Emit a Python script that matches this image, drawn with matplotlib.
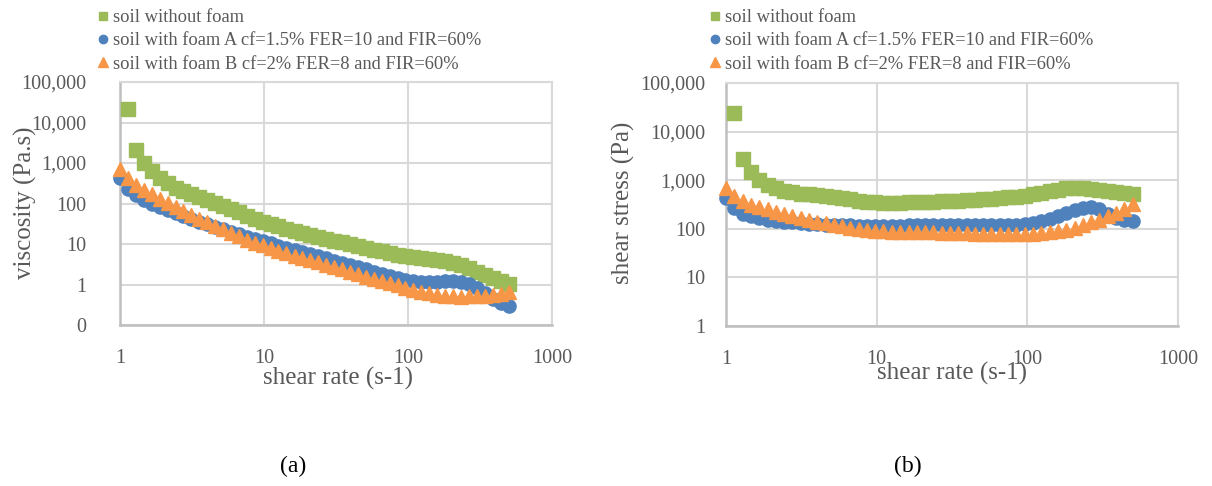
import matplotlib
matplotlib.use("Agg")
import matplotlib.pyplot as plt
from matplotlib.ticker import FixedLocator, FuncFormatter, NullLocator
from matplotlib.lines import Line2D

plt.rcParams["font.family"] = ["Liberation Serif", "DejaVu Serif"]

# shear rate (s-1), shared by all series
rate = [1.00, 1.135, 1.29, 1.46, 1.66, 1.89, 2.14, 2.43, 2.76, 3.13,
        3.55, 4.03, 4.58, 5.20, 5.90, 6.70, 7.60, 8.63, 9.80, 11.1,
        12.6, 14.3, 16.3, 18.5, 21.0, 23.8, 27.0, 30.7, 34.8, 39.5,
        44.9, 50.9, 57.8, 65.6, 74.5, 84.6, 96.0, 109, 124, 141,
        160, 181, 206, 234, 265, 301, 342, 388, 441, 500]

# soil without foam (first point of the ramp not shown)
rate_soil = rate[1:]
visc_soil = [21000, 2090, 990, 620, 423, 318, 247, 203, 169, 144,
             122, 103, 87.5, 72.9, 60.4, 50, 41.7, 35.7, 31.1, 27.4,
             24.1, 21.5, 19.0, 16.9, 15.1, 13.5, 12.1, 10.9, 9.9, 8.9,
             8.1, 7.3, 6.6, 6.0, 5.4, 5.0, 4.7, 4.4, 4.2, 4.0,
             3.76, 3.40, 2.95, 2.49, 2.06, 1.73, 1.44, 1.22, 1.04]
stress_soil = [23800, 2700, 1450, 1030, 800, 680, 600, 560, 530, 510,
               490, 470, 455, 430, 405, 380, 360, 350, 345, 345,
               345, 350, 352, 355, 360, 365, 370, 380, 390, 400,
               410, 420, 430, 445, 460, 480, 510, 545, 590, 640,
               680, 700, 690, 660, 620, 590, 560, 540, 520]

# soil with foam A
visc_a = [430, 231, 160, 123, 99, 82, 69, 58, 49, 41.5,
          35.8, 30.8, 26.6, 23.1, 20, 17.5, 15.3, 13.3, 11.7, 10.4,
          9.1, 8.1, 7.2, 6.4, 5.7, 5.0, 4.44, 3.91, 3.45, 3.04,
          2.67, 2.36, 2.08, 1.83, 1.61, 1.44, 1.30, 1.22, 1.17, 1.15,
          1.16, 1.19, 1.19, 1.15, 1.04, 0.83, 0.60, 0.44, 0.34, 0.30]
stress_a = [430, 262, 206, 180, 165, 155, 147, 140, 135, 130,
            127, 124, 122, 120, 118, 117, 116, 115, 115, 115,
            115, 116, 117, 118, 119, 120, 120, 120, 120, 120,
            120, 120, 120, 120, 120, 122, 125, 133, 145, 162,
            185, 215, 245, 270, 275, 250, 205, 170, 150, 148]

# soil with foam B
visc_b = [700, 418, 287, 216, 169, 132, 105, 82, 65, 52.7,
          42.3, 34.7, 28.4, 23.1, 19.0, 15.7, 12.9, 10.8, 9.2, 7.9,
          6.8, 5.9, 5.15, 4.54, 4.0, 3.53, 3.07, 2.67, 2.36, 2.05,
          1.78, 1.57, 1.38, 1.22, 1.07, 0.95, 0.83, 0.73, 0.66, 0.60,
          0.56, 0.53, 0.51, 0.50, 0.51, 0.51, 0.53, 0.54, 0.57, 0.64]
stress_b = [700, 475, 370, 315, 280, 250, 225, 200, 180, 165,
            150, 140, 130, 120, 112, 105, 98, 93, 90, 88,
            86, 85, 84, 84, 84, 84, 83, 82, 82, 81,
            80, 80, 80, 80, 80, 80, 80, 80, 82, 85,
            90, 96, 105, 118, 135, 155, 180, 210, 250, 320]

labels = ["soil without foam",
          "soil with foam A cf=1.5% FER=10 and FIR=60%",
          "soil with foam B cf=2% FER=8 and FIR=60%"]
green = "#9BBB59"
blue = "#4F81BD"
orange = "#F79646"
txt = "#595959"
grid_c = "#D9D9D9"

fig = plt.figure(figsize=(12.12, 4.86), dpi=100)


def style_axes(ax, ymin, ypad):
    ax.set_xscale("log")
    ax.set_yscale("log")
    ax.set_xlim(1, 1000)
    ax.set_ylim(ymin, 100000)
    ax.xaxis.set_major_locator(FixedLocator([1, 10, 100, 1000]))
    ax.xaxis.set_minor_locator(NullLocator())
    ax.xaxis.set_major_formatter(FuncFormatter(lambda v, p: f"{v:.0f}"))
    yt = [10.0 ** k for k in range(-1, 6) if 10.0 ** k >= ymin]
    ax.yaxis.set_major_locator(FixedLocator(yt))
    ax.yaxis.set_minor_locator(NullLocator())
    ax.yaxis.set_major_formatter(FuncFormatter(lambda v, p: f"{v:,.0f}"))
    ax.tick_params(axis="both", length=0, labelsize=14.5, colors=txt)
    ax.tick_params(axis="x", pad=17)
    ax.tick_params(axis="y", pad=ypad)
    ax.grid(True, color=grid_c, lw=1.5)
    ax.set_axisbelow(True)
    for s in ["top", "right"]:
        ax.spines[s].set_color(grid_c)
        ax.spines[s].set_linewidth(1.5)
    for s in ["left", "bottom"]:
        ax.spines[s].set_color("#BFBFBF")
        ax.spines[s].set_linewidth(1.8)


def draw(ax, y_soil, y_a, y_b):
    ax.plot(rate_soil, y_soil, ls="none", marker="s", ms=10.5, color=green,
            mec=green, clip_on=False, zorder=3)
    ax.plot(rate, y_a, ls="none", marker="o", ms=9.5, color=blue,
            mec=blue, clip_on=False, zorder=4)
    ax.plot(rate, y_b, ls="none", marker="^", ms=10, color=orange,
            mec=orange, clip_on=False, zorder=5)


def add_legend(ax, x0):
    handles = [
        Line2D([], [], ls="none", marker="s", ms=6, color=green),
        Line2D([], [], ls="none", marker="o", ms=6, color=blue),
        Line2D([], [], ls="none", marker="^", ms=6.5, color=orange),
    ]
    leg = ax.legend(handles, labels, loc="upper left",
                    bbox_to_anchor=(x0, 1 - 9 / 486), bbox_transform=fig.transFigure,
                    frameon=False, fontsize=13.3, handlelength=0.5,
                    handletextpad=0.3, labelspacing=0.34, borderpad=0,
                    borderaxespad=0)
    for t in leg.get_texts():
        t.set_color(txt)


# (a) viscosity
ax1 = fig.add_axes([120 / 1212, 1 - 325 / 486, 432 / 1212, 243 / 486])
draw(ax1, visc_soil, visc_a, visc_b)
style_axes(ax1, 0.1, 24)
add_legend(ax1, 98 / 1212)
fig.text(25 / 1212, 1 - 203 / 486, "viscosity (Pa.s)", rotation=90,
         ha="center", va="center", fontsize=18, color=txt)
fig.text(338 / 1212, 1 - 378 / 486, "shear rate (s-1)",
         ha="center", va="center", fontsize=18, color=txt)

# (b) shear stress
ax2 = fig.add_axes([726 / 1212, 1 - 326 / 486, 452 / 1212, 243 / 486])
draw(ax2, stress_soil, stress_a, stress_b)
style_axes(ax2, 1, 15)
add_legend(ax2, 710 / 1212)
fig.text(623 / 1212, 1 - 203 / 486, "shear stress (Pa)", rotation=90,
         ha="center", va="center", fontsize=18, color=txt)
fig.text(952 / 1212, 1 - 373 / 486, "shear rate (s-1)",
         ha="center", va="center", fontsize=18, color=txt)

fig.text(293 / 1212, 1 - 466 / 486, "(a)", ha="center", va="center",
         fontsize=17, color="black")
fig.text(908 / 1212, 1 - 466 / 486, "(b)", ha="center", va="center",
         fontsize=17, color="black")

fig.savefig("out.png", dpi=100)
